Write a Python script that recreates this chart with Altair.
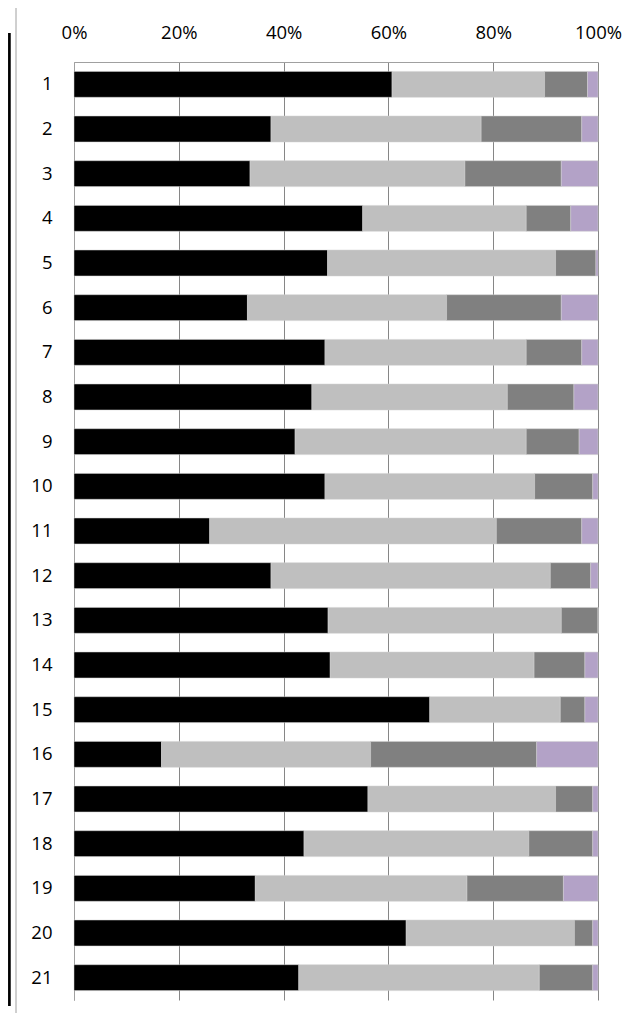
import altair as alt
import pandas as pd

categories = [str(i) for i in range(1, 22)]
series_names = ["Series 1", "Series 2", "Series 3", "Series 4"]
series_colors = ["#000000", "#bfbfbf", "#808080", "#b3a2c7"]
s1 = [60.7, 37.6, 33.6, 55.1, 48.4, 33.1, 47.9, 45.4, 42.2, 47.9, 25.9,
      37.6, 48.5, 48.9, 67.9, 16.7, 56.1, 43.9, 34.6, 63.4, 42.9]
s2 = [29.1, 40.1, 41.0, 31.2, 43.5, 38.0, 38.4, 37.3, 44.1, 40.0, 54.7,
      53.3, 44.5, 38.9, 24.9, 39.9, 35.8, 42.9, 40.4, 32.1, 45.9]
s3 = [8.2, 19.2, 18.4, 8.5, 7.7, 21.9, 10.6, 12.7, 10.1, 11.1, 16.3,
      7.7, 7.0, 9.7, 4.7, 31.7, 7.1, 12.2, 18.4, 3.5, 10.2]
s4 = [2.0, 3.1, 7.0, 5.2, 0.4, 7.0, 3.1, 4.6, 3.6, 1.0, 3.1,
      1.4, 0.0, 2.5, 2.5, 11.7, 1.0, 1.0, 6.6, 1.0, 1.0]
x_ticks = [0, 0.2, 0.4, 0.6, 0.8, 1.0]

rows = []
for si, (name, vals) in enumerate(zip(series_names, [s1, s2, s3, s4])):
    for cat, v in zip(categories, vals):
        rows.append({"cat": cat, "series": name, "order": si, "value": v})
df = pd.DataFrame(rows)

FONT = "Open Sans"
FS = 18.5

bars = alt.Chart(df).mark_bar(stroke="#d0d0d0", strokeWidth=0.5).encode(
    y=alt.Y("cat:N", sort=categories,
            scale=alt.Scale(paddingInner=0.42, paddingOuter=0.21),
            axis=alt.Axis(title=None, ticks=False, domain=True,
                          domainColor="#a0a0a0", domainWidth=1,
                          labelPadding=22, labelFont=FONT, labelFontSize=FS,
                          labelColor="#000000", grid=False)),
    x=alt.X("value:Q", stack="normalize",
            scale=alt.Scale(domain=[0, 1], nice=False),
            axis=alt.Axis(title=None, orient="top", format="%", values=x_ticks,
                          grid=True, gridColor="#868686", gridWidth=1,
                          ticks=False, domain=True, domainColor="#a0a0a0",
                          labelPadding=20, labelFlush=False,
                          labelFont=FONT, labelFontSize=FS,
                          labelColor="#000000")),
    color=alt.Color("series:N", sort=series_names,
                    scale=alt.Scale(domain=series_names, range=series_colors),
                    legend=None),
    order=alt.Order("order:Q", sort="ascending"),
)

one = pd.DataFrame({"a": [0]})
frame = alt.Chart(one).mark_rect(filled=False, stroke="#a0a0a0", strokeWidth=1).encode(
    x=alt.value(-58), x2=alt.value(700), y=alt.value(-56), y2=alt.value(1100)
)
blackline = alt.Chart(one).mark_rule(color="#000000", strokeWidth=2.7).encode(
    x=alt.value(-64.6), y=alt.value(-29), y2=alt.value(944)
)

chart = alt.layer(frame, blackline, bars).properties(
    width=524, height=938,
    padding={"left": 66, "top": 54, "right": 36, "bottom": 13},
    autosize=alt.AutoSizeParams(type="none"),
).configure_view(stroke=None)

chart.save("out.html", embed_options={"renderer": "svg", "actions": False})
